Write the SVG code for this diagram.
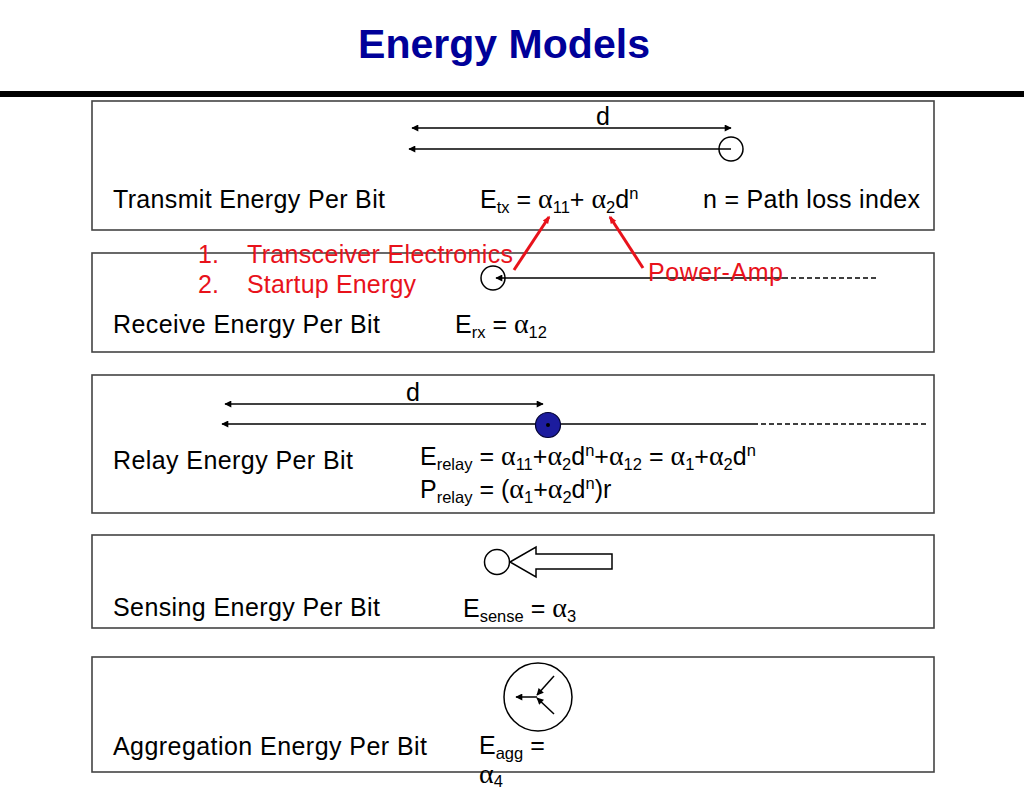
<svg xmlns="http://www.w3.org/2000/svg" width="1024" height="791" viewBox="0 0 1024 791">
<style>
.t{font-family:"Liberation Sans",Arial,sans-serif;font-size:25px;fill:#000}
.red{fill:#e8121b}
.g{font-family:"Liberation Serif","Times New Roman",serif;font-size:28px}
.sb{font-size:16.5px}
.box{fill:#fff;stroke:#444;stroke-width:1.6}
.ln{stroke:#000;stroke-width:1.5;fill:none}
.dash{stroke:#000;stroke-width:1.5;fill:none;stroke-dasharray:5 3}
.ra{stroke:#e8121b;stroke-width:3;fill:none}
</style>
<defs>
<marker id="ah" viewBox="0 0 10 10" refX="9" refY="5" markerUnits="userSpaceOnUse" markerWidth="9" markerHeight="7" orient="auto-start-reverse">
<path d="M0,0 L10,5 L0,10 z" fill="#000"/>
</marker>
<marker id="rh" viewBox="0 0 10 10" refX="8" refY="5" markerUnits="userSpaceOnUse" markerWidth="9" markerHeight="8" orient="auto">
<path d="M0,1 L10,5 L0,9 z" fill="#e8121b"/>
</marker>
</defs>
<rect width="1024" height="791" fill="#fff"/>
<g id="title">
<text x="504" y="58" text-anchor="middle" textLength="292" lengthAdjust="spacingAndGlyphs" style="font-family:'Liberation Sans',Arial,sans-serif;font-weight:bold;font-size:41px;fill:#000099">Energy Models</text>
<rect x="0" y="91" width="1024" height="6" fill="#000"/>
</g>
<g id="transmit">
<rect class="box" x="92" y="101" width="842" height="129"/>
<circle cx="731" cy="149" r="12" class="ln"/>
<text class="t" x="603" y="125" text-anchor="middle">d</text>
<text class="t" x="113" y="208" textLength="272">Transmit Energy Per Bit</text>
<text class="t" x="480" y="208">E<tspan class="sb" dy="5">tx</tspan><tspan dy="-5"> = </tspan><tspan class="g">α</tspan><tspan class="sb" dy="5">11</tspan><tspan dy="-5">+ </tspan><tspan class="g">α</tspan><tspan class="sb" dy="5">2</tspan><tspan dy="-5">d</tspan><tspan class="sb" dy="-9">n</tspan></text>
<text class="t" x="703" y="208" textLength="217">n = Path loss index</text>
</g>
<g id="receive">
<rect class="box" x="92" y="253" width="842" height="99"/>
<circle cx="493" cy="278" r="12" class="ln"/>
<text class="t" x="113" y="333" textLength="267">Receive Energy Per Bit</text>
<text class="t" x="455" y="333">E<tspan class="sb" dy="5">rx</tspan><tspan dy="-5"> = </tspan><tspan class="g">α</tspan><tspan class="sb" dy="5">12</tspan></text>
</g>
<g id="relay">
<rect class="box" x="92" y="375" width="842" height="138"/>
<text class="t" x="413" y="401" text-anchor="middle">d</text>
<text class="t" x="113" y="469" textLength="240">Relay Energy Per Bit</text>
<text class="t" x="420" y="465">E<tspan class="sb" dy="5">relay</tspan><tspan dy="-5"> = </tspan><tspan class="g">α</tspan><tspan class="sb" dy="5">11</tspan><tspan dy="-5">+</tspan><tspan class="g">α</tspan><tspan class="sb" dy="5">2</tspan><tspan dy="-5">d</tspan><tspan class="sb" dy="-9">n</tspan><tspan dy="9">+</tspan><tspan class="g">α</tspan><tspan class="sb" dy="5">12</tspan><tspan dy="-5"> = </tspan><tspan class="g">α</tspan><tspan class="sb" dy="5">1</tspan><tspan dy="-5">+</tspan><tspan class="g">α</tspan><tspan class="sb" dy="5">2</tspan><tspan dy="-5">d</tspan><tspan class="sb" dy="-9">n</tspan></text>
<text class="t" x="420" y="498">P<tspan class="sb" dy="5">relay</tspan><tspan dy="-5"> = (</tspan><tspan class="g">α</tspan><tspan class="sb" dy="5">1</tspan><tspan dy="-5">+</tspan><tspan class="g">α</tspan><tspan class="sb" dy="5">2</tspan><tspan dy="-5">d</tspan><tspan class="sb" dy="-9">n</tspan><tspan dy="9">)r</tspan></text>
</g>
<g id="sensing">
<rect class="box" x="92" y="535" width="842" height="93"/>
<circle cx="497" cy="562" r="12.5" class="ln"/>
<polygon points="510,562 536,547 536,554 612,554 612,569 536,569 536,577" fill="#fff" stroke="#000" stroke-width="1.5"/>
<text class="t" x="463" y="617">E<tspan class="sb" dy="5">sense</tspan><tspan dy="-5"> = </tspan><tspan class="g">α</tspan><tspan class="sb" dy="5">3</tspan></text>
<text class="t" x="113" y="616" textLength="267">Sensing Energy Per Bit</text>
</g>
<g id="aggregation">
<rect class="box" x="92" y="657" width="842" height="115"/>
<circle cx="538" cy="697" r="34" class="ln"/>
<text class="t" x="113" y="755" textLength="314">Aggregation Energy Per Bit</text>
<text class="t" x="479" y="754">E<tspan class="sb" dy="5">agg</tspan><tspan dy="-5"> =</tspan></text>
<text class="t" x="479" y="783"><tspan class="g">α</tspan><tspan class="sb" dy="4">4</tspan></text>
</g>
<g id="connectors">
<line class="ln" x1="412" y1="128" x2="731" y2="128" marker-start="url(#ah)" marker-end="url(#ah)"/>
<line class="ln" x1="731" y1="149" x2="409" y2="149" marker-end="url(#ah)"/>
<line class="ln" x1="783" y1="278" x2="496" y2="278" marker-end="url(#ah)"/>
<line class="dash" x1="783" y1="278" x2="878" y2="278"/>
<line class="ln" x1="225" y1="404" x2="543" y2="404" marker-start="url(#ah)" marker-end="url(#ah)"/>
<line class="ln" x1="753" y1="424" x2="548" y2="424"/>
<line class="ln" x1="548" y1="424" x2="222" y2="424" marker-end="url(#ah)"/>
<line class="dash" x1="753" y1="424" x2="928" y2="424"/>
<line class="ln" x1="554" y1="676" x2="537" y2="695" marker-end="url(#ah)"/>
<line class="ln" x1="554" y1="714" x2="537" y2="698" marker-end="url(#ah)"/>
<line class="ln" x1="537" y1="697" x2="516" y2="697" marker-end="url(#ah)"/>
<line class="ra" x1="514" y1="270" x2="549" y2="217" marker-end="url(#rh)"/>
<line class="ra" x1="643" y1="268" x2="610" y2="217" marker-end="url(#rh)"/>
</g>
<g id="relay-node">
<ellipse cx="548" cy="425" rx="12.5" ry="12.5" fill="#1c1c9e" stroke="#000033" stroke-width="1.2"/>
<circle cx="548" cy="425" r="2" fill="#000"/>
</g>
<g id="labels">
<text class="t red" x="198" y="263">1.</text>
<text class="t red" x="247" y="263" textLength="266">Transceiver Electronics</text>
<text class="t red" x="198" y="293">2.</text>
<text class="t red" x="247" y="293" textLength="169">Startup Energy</text>
<text class="t red" x="648" y="281" textLength="135">Power-Amp</text>
</g>
</svg>
